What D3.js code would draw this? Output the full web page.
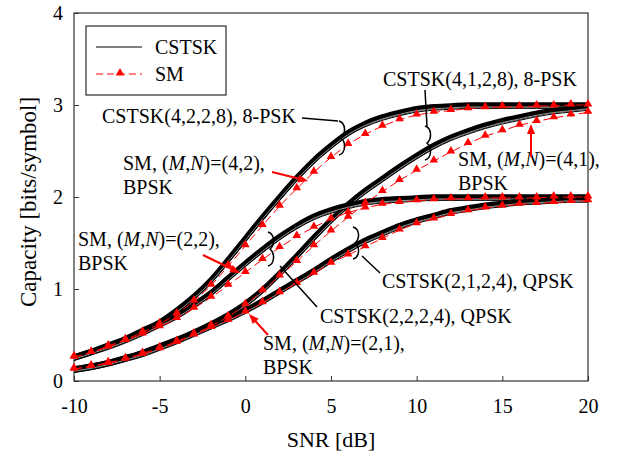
<!DOCTYPE html>
<html>
<head>
<meta charset="utf-8">
<script src="https://cdn.jsdelivr.net/npm/d3@7"></script>
<style>
  body { margin: 0; background: #fff; }
  text { font-family: "Liberation Serif", "Times New Roman", serif; fill: #000; }
</style>
</head>
<body>
<div id="chart-area"></div>
<script>
// SNR grid [dB]
var snr = [-10, -9, -8, -7, -6, -5, -4, -3, -2, -1, 0, 1, 2, 3, 4, 5, 6, 7, 8, 9, 10,
  11, 12, 13, 14, 15, 16, 17, 18, 19, 20];

// capacity [bits/symbol]
var cstsk4228 = [0.26, 0.32, 0.39, 0.46, 0.55, 0.64, 0.77, 0.92, 1.1, 1.32, 1.55, 1.78, 2.0, 2.21, 2.4,
  2.56, 2.7, 2.8, 2.87, 2.92, 2.96, 2.98, 2.99, 3.0, 3.0, 3.0, 3.0, 3.0, 3.0, 3.0, 3.0];
var sm42 = [0.26, 0.31, 0.38, 0.45, 0.53, 0.62, 0.73, 0.87, 1.04, 1.25, 1.47, 1.69, 1.9, 2.09, 2.27,
  2.43, 2.57, 2.68, 2.77, 2.84, 2.89, 2.92, 2.94, 2.96, 2.97, 2.98, 2.98, 2.99, 2.99, 3.0, 3.0];
var cstsk4128 = [0.13, 0.16, 0.2, 0.25, 0.31, 0.38, 0.45, 0.53, 0.62, 0.72, 0.84, 0.99, 1.17, 1.36, 1.56,
  1.75, 1.92, 2.07, 2.2, 2.33, 2.45, 2.56, 2.65, 2.72, 2.78, 2.83, 2.87, 2.91, 2.94, 2.96, 2.98];
var sm41 = [0.13, 0.16, 0.2, 0.24, 0.3, 0.36, 0.43, 0.51, 0.6, 0.7, 0.83, 0.98, 1.14, 1.3, 1.47,
  1.63, 1.78, 1.93, 2.06, 2.18, 2.29, 2.39, 2.49, 2.58, 2.66, 2.72, 2.78, 2.82, 2.86, 2.89, 2.92];
var cstsk2224 = [0.26, 0.32, 0.38, 0.45, 0.53, 0.62, 0.71, 0.83, 0.96, 1.12, 1.28, 1.43, 1.57, 1.69, 1.79,
  1.86, 1.91, 1.95, 1.97, 1.98, 1.99, 2.0, 2.0, 2.0, 2.0, 2.0, 2.0, 2.0, 2.0, 2.0, 2.0];
var sm22 = [0.26, 0.31, 0.37, 0.44, 0.51, 0.59, 0.68, 0.79, 0.91, 1.04, 1.18, 1.32, 1.45, 1.57, 1.67,
  1.76, 1.83, 1.88, 1.92, 1.94, 1.96, 1.97, 1.98, 1.98, 1.99, 1.99, 1.99, 1.99, 2.0, 2.0, 2.0];
var cstsk2124 = [0.13, 0.16, 0.2, 0.25, 0.3, 0.37, 0.44, 0.52, 0.6, 0.68, 0.77, 0.87, 0.98, 1.09, 1.2,
  1.32, 1.43, 1.53, 1.61, 1.69, 1.75, 1.8, 1.85, 1.88, 1.91, 1.93, 1.95, 1.96, 1.97, 1.98, 1.98];
var sm21 = [0.13, 0.16, 0.19, 0.24, 0.29, 0.35, 0.42, 0.5, 0.58, 0.66, 0.75, 0.85, 0.96, 1.06, 1.17,
  1.28, 1.37, 1.46, 1.55, 1.64, 1.71, 1.76, 1.81, 1.85, 1.88, 1.9, 1.92, 1.93, 1.94, 1.95, 1.96];

var xTicks = [-10, -5, 0, 5, 10, 15, 20];
var yTicks = [0, 1, 2, 3, 4];

var cstskSeries = [cstsk4228, cstsk4128, cstsk2224, cstsk2124];
var smSeries = [sm42, sm41, sm22, sm21];

var svg = d3.select("#chart-area")
  .append("svg")
  .attr("width", 633)
  .attr("height", 462);

var margin = { top: 13, left: 74 };
var width = 514;
var height = 368;

var g = svg.append("g")
  .attr("transform", "translate(" + margin.left + "," + margin.top + ")");

var x = d3.scaleLinear().domain([-10, 20]).range([0, width]);
var y = d3.scaleLinear().domain([0, 4]).range([height, 0]);

// axes (ticks point inward), plain hyphen minus
var fmt = function(d) { return String(d); };
var xAxis = g.append("g")
  .attr("transform", "translate(0," + height + ")")
  .call(d3.axisBottom(x).tickValues(xTicks).tickFormat(fmt)
    .tickSizeInner(-5).tickSizeOuter(0).tickPadding(18));
var yAxis = g.append("g")
  .call(d3.axisLeft(y).tickValues(yTicks).tickFormat(fmt)
    .tickSizeInner(-5).tickSizeOuter(0).tickPadding(11));
[xAxis, yAxis].forEach(function(a) {
  a.select(".domain").remove();
  a.attr("font-family", null);
  a.selectAll("text").style("font-size", "20px");
  a.selectAll("line").attr("stroke", "#333");
});

g.append("rect")
  .attr("width", width)
  .attr("height", height)
  .attr("fill", "none")
  .attr("stroke", "#333")
  .attr("stroke-width", 1.2);

var line = d3.line()
  .x(function(d, i) { return x(snr[i]); })
  .y(function(d) { return y(d); })
  .curve(d3.curveMonotoneX);

// CSTSK bundles: thick band with a thin trailing line
cstskSeries.forEach(function(s) {
  g.append("path").attr("d", line(s))
    .attr("fill", "none").attr("stroke", "#000").attr("stroke-width", 5.5);
  g.append("path").attr("d", line(s)).attr("transform", "translate(0,2)")
    .attr("fill", "none").attr("stroke", "#fff").attr("stroke-width", 0.6);
  g.append("path").attr("d", line(s)).attr("transform", "translate(0,3.4)")
    .attr("fill", "none").attr("stroke", "#000").attr("stroke-width", 1);
});

var tri = d3.symbol().type(d3.symbolTriangle).size(32);

smSeries.forEach(function(s) {
  g.append("path").attr("d", line(s))
    .attr("fill", "none").attr("stroke", "#ff0000").attr("stroke-width", 1)
    .attr("stroke-dasharray", "8,4");
  g.selectAll(null)
    .data(s)
    .enter()
    .append("path")
    .attr("d", tri)
    .attr("transform", function(d, i) { return "translate(" + x(snr[i]) + "," + (y(d) - 1) + ")"; })
    .attr("fill", "#ff0000");
});

// axis titles
svg.append("text")
  .attr("x", 331).attr("y", 447)
  .attr("text-anchor", "middle")
  .style("font-size", "22px")
  .text("SNR [dB]");
svg.append("text")
  .attr("transform", "translate(36,202) rotate(-90)")
  .attr("text-anchor", "middle")
  .style("font-size", "23px")
  .text("Capacity [bits/symbol]");

// legend
var lg = svg.append("g");
lg.append("rect").attr("x", 86).attr("y", 26).attr("width", 140).attr("height", 69)
  .attr("fill", "#fff").attr("stroke", "#000").attr("stroke-width", 1);
lg.append("line").attr("x1", 96).attr("x2", 142).attr("y1", 47).attr("y2", 47)
  .attr("stroke", "#000").attr("stroke-width", 1);
lg.append("line").attr("x1", 96).attr("x2", 142).attr("y1", 74).attr("y2", 74)
  .attr("stroke", "#ff0000").attr("stroke-width", 1).attr("stroke-dasharray", "7,4");
lg.append("path").attr("d", tri).attr("transform", "translate(120,73)").attr("fill", "#ff0000");
lg.append("text").attr("x", 155).attr("y", 54).style("font-size", "20px").text("CSTSK");
lg.append("text").attr("x", 155).attr("y", 81).style("font-size", "20px").text("SM");

// annotations
function label(px, py, parts) {
  var t = svg.append("text").attr("x", px).attr("y", py).style("font-size", "20px");
  parts.forEach(function(p) {
    t.append("tspan").style("font-style", p[1] ? "italic" : "normal").text(p[0]);
  });
}
function smLabel(px, py, m, n) {
  label(px, py, [["SM, ("], ["M", true], [","], ["N", true], [")=(" + m + "," + n + "),"]]);
  label(px, py + 24, [["BPSK"]]);
}

label(102, 123, [["CSTSK(4,2,2,8), 8-PSK"]]);
label(383, 86, [["CSTSK(4,1,2,8), 8-PSK"]]);
label(382, 288, [["CSTSK(2,1,2,4), QPSK"]]);
label(320, 323, [["CSTSK(2,2,2,4), QPSK"]]);
smLabel(123, 170, 4, 2);
smLabel(458, 166, 4, 1);
smLabel(78, 246, 2, 2);
smLabel(263, 350, 2, 1);

function brace(bx, by, h) {
  return "M" + bx + "," + (by - h / 2) +
    " C" + (bx + 7) + "," + (by - h / 2 + 2) + " " + (bx + 7) + "," + (by - 4) + " " + (bx + 2) + "," + by +
    " C" + (bx + 7) + "," + (by + 4) + " " + (bx + 7) + "," + (by + h / 2 - 2) + " " + bx + "," + (by + h / 2);
}
var ann = svg.append("g").attr("fill", "none").attr("stroke", "#000").attr("stroke-width", 1.5);
ann.append("path").attr("d", "M302,118 L338,121");
ann.append("path").attr("d", brace(339, 138, 34));
ann.append("path").attr("d", "M425,90 L427,126");
ann.append("path").attr("d", brace(425, 143, 34));
ann.append("path").attr("d", "M317,307 L280,266");
ann.append("path").attr("d", brace(268, 249, 34));
ann.append("path").attr("d", "M380,273 L362,256");
ann.append("path").attr("d", brace(353, 243, 32));

var red = svg.append("g").attr("stroke", "#ff0000").attr("stroke-width", 2).attr("fill", "#ff0000");
function arrow(x1, y1, x2, y2) {
  var a = Math.atan2(y2 - y1, x2 - x1), L = 10, W = 4;
  red.append("line").attr("x1", x1).attr("y1", y1)
    .attr("x2", x2 - Math.cos(a) * L * 0.8).attr("y2", y2 - Math.sin(a) * L * 0.8);
  var bx = x2 - Math.cos(a) * L, by = y2 - Math.sin(a) * L;
  red.append("path").attr("stroke", "none")
    .attr("d", "M" + x2 + "," + y2 + " L" + (bx - Math.sin(a) * W) + "," + (by + Math.cos(a) * W) +
      " L" + (bx + Math.sin(a) * W) + "," + (by - Math.cos(a) * W) + "Z");
}
arrow(272, 172, 308, 181);
arrow(531, 157, 531, 124);
arrow(203, 255, 240, 273);
arrow(268, 335, 249, 314);
</script>
</body>
</html>
